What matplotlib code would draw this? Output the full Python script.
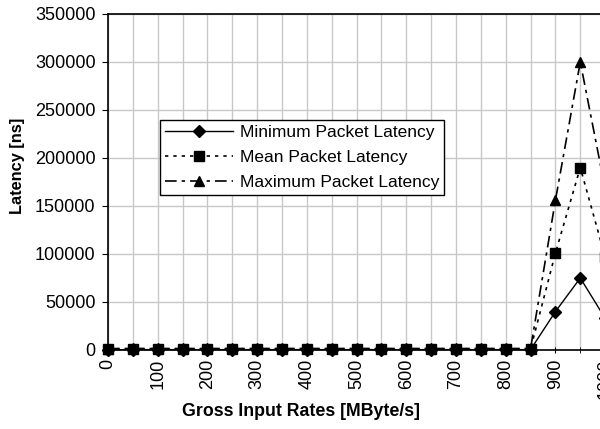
import matplotlib
matplotlib.use("Agg")
import matplotlib.pyplot as plt
from matplotlib.ticker import MultipleLocator

plt.rcParams['font.family'] = ['Liberation Sans', 'DejaVu Sans']

# input rates in MByte/s
rates = [0, 50, 100, 150, 200, 250, 300, 350, 400, 450, 500, 550, 600, 650,
         700, 750, 800, 850, 900, 950, 1000]
# latencies in ns
lat_min = [300, 400, 400, 400, 400, 400, 400, 400, 400, 400, 400, 400, 400, 400,
           400, 400, 400, 400, 40000, 75000, 33000]
lat_mean = [800, 900, 900, 900, 900, 900, 900, 900, 900, 900, 900, 900, 900, 900,
            900, 900, 900, 900, 101000, 190000, 97000]
lat_max = [1500, 1600, 1600, 1600, 1600, 1600, 1600, 1600, 1600, 1600, 1600, 1600,
           1600, 1600, 1600, 1600, 1600, 1600, 156000, 300000, 168000]

fig = plt.figure(figsize=(6, 4.29), dpi=100)
# axes run past the right edge, so the last part is cut off
ax = fig.add_axes([108/600, 1-350/429, 522/600, 336/429])

ax.plot(rates, lat_min, color='black', lw=1, ls='-', marker='D', ms=6.5,
        label='Minimum Packet Latency', clip_on=False)
ax.plot(rates, lat_mean, color='black', lw=1.2, ls=(0, (2, 3)), marker='s', ms=7,
        label='Mean Packet Latency', clip_on=False)
ax.plot(rates, lat_max, color='black', lw=1.2, ls=(0, (7, 3, 2, 3)), marker='^', ms=7.5,
        label='Maximum Packet Latency', clip_on=False)

ax.set_xlim(0, 1050)
ax.set_ylim(0, 350000)
ax.xaxis.set_major_locator(MultipleLocator(100))
ax.xaxis.set_minor_locator(MultipleLocator(50))
ax.yaxis.set_major_locator(MultipleLocator(50000))
ax.grid(True, which='both', color='#c8c8c8', lw=1)
ax.set_axisbelow(True)
ax.tick_params(axis='x', which='major', labelrotation=90, labelsize=13, length=5,
               direction='inout', pad=4)
ax.tick_params(axis='x', which='minor', length=5, direction='inout')
ax.tick_params(axis='y', labelsize=13, length=4, direction='out', pad=5)
ax.spines['right'].set_visible(False)
for s in ['left', 'bottom', 'top']:
    ax.spines[s].set_linewidth(1.2)

# axis titles placed over the visible part of the plot
ax.set_xlabel('Gross Input Rates [MByte/s]', fontsize=12.8, fontweight='bold')
ax.xaxis.set_label_coords((301-108)/522, -(403-350)/336)
ax.set_ylabel('Latency [ns]', fontsize=11.8, fontweight='bold')
ax.yaxis.set_label_coords(-(108-25)/522, (350-166)/336)

leg = ax.legend(loc='upper left', bbox_to_anchor=(52/522, 230/336), fontsize=12.5,
                frameon=True, fancybox=False, edgecolor='black', framealpha=1,
                borderpad=0.3, handlelength=3.9, handletextpad=0.4, labelspacing=0.55,
                borderaxespad=0)
leg.get_frame().set_linewidth(1)

fig.savefig('out.png', dpi=100)
